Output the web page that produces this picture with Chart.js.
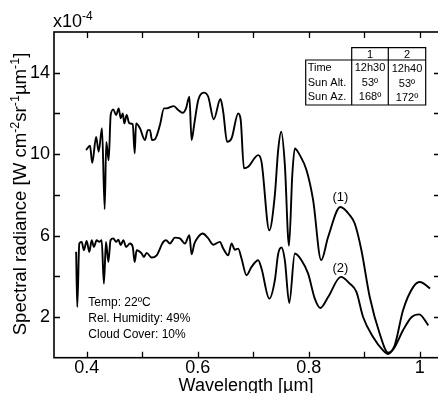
<!DOCTYPE html>
<html><head><meta charset="utf-8">
<script src="https://cdn.jsdelivr.net/npm/chart.js@4/dist/chart.umd.min.js"></script>
<style>html,body{margin:0;padding:0;overflow:hidden;background:#fff}#wrap{width:442px;height:393px;position:relative}</style>
</head><body><div id="wrap"><canvas id="c"></canvas></div>
<script>
// ---- data (x10^-4 W cm^-2 sr^-1 um^-1) ----
const wavelength1 = [0.399,0.406,0.410,0.417,0.4216,0.4276,0.4324,0.4353,0.4396,0.4432,0.448,0.453,0.4577,0.4613,0.465,0.4678,0.472,0.4768,0.483,0.4865,0.489,0.496,0.505,0.510,0.514,0.5177,0.523,0.532,0.5393,0.544,0.557,0.565,0.573,0.579,0.585,0.589,0.594,0.601,0.611,0.619,0.629,0.641,0.646,0.653,0.661,0.673,0.6775,0.6834,0.691,0.709,0.715,0.729,0.739,0.745,0.7505,0.757,0.7645,0.7705,0.775,0.784,0.796,0.808,0.8225,0.835,0.857,0.874,0.883,0.895,0.910,0.928,0.943,0.955,0.970,0.9885,1.0005,1.0186];
const radiance1  = [10.20,10.41,9.57,10.85,10.12,11.27,7.3,10.6,9.7,11.92,12.2,11.92,12.25,11.76,12.0,11.51,11.92,11.51,11.48,10.04,11.51,11.27,10.69,11.18,11.18,10.69,10.73,11.43,12.25,12.25,12.36,12.17,12.03,12.25,12.82,10.69,11.51,12.66,13.02,12.82,11.71,12.71,12.08,10.6,10.77,12.0,11.68,9.3,9.38,9.95,9.62,6.26,7.99,10.2,11.1,9.5,5.5,9.0,10.28,9.95,9.22,7.74,4.79,5.93,7.4,7.0,6.59,5.28,2.98,1.18,0.25,0.61,2.33,3.48,3.72,3.4];
const wavelength2 = [0.381,0.383,0.3867,0.391,0.395,0.400,0.4047,0.409,0.413,0.418,0.4227,0.427,0.431,0.4348,0.439,0.443,0.448,0.453,0.457,0.4613,0.466,0.471,0.478,0.483,0.4865,0.490,0.499,0.503,0.508,0.517,0.526,0.538,0.543,0.550,0.559,0.568,0.577,0.585,0.589,0.594,0.601,0.609,0.618,0.628,0.640,0.646,0.655,0.661,0.667,0.673,0.679,0.688,0.697,0.709,0.715,0.729,0.739,0.745,0.751,0.757,0.765,0.775,0.787,0.799,0.811,0.821,0.835,0.858,0.874,0.886,0.898,0.916,0.934,0.943,0.955,0.970,0.9856,0.9993,1.0155];
const radiance2  = [5.2,2.49,5.61,5.69,5.28,5.74,5.2,5.77,5.44,5.77,5.69,5.77,3.64,5.69,4.7,5.77,5.86,5.69,5.8,5.53,5.77,5.44,5.61,5.44,4.7,5.28,5.12,4.95,5.15,4.92,5.03,5.69,5.77,5.61,5.9,5.86,5.61,6.02,5.08,5.6,5.94,6.1,5.9,5.55,5.69,5.36,5.03,5.61,5.3,5.36,4.87,4.05,4.46,4.79,4.38,2.9,3.8,5.1,5.41,4.79,2.69,5.12,4.79,4.13,2.9,2.44,2.98,3.97,3.64,3.23,2.0,1.02,0.36,0.18,0.52,1.35,2.0,2.13,1.59];
const xTickValues = [0.4,0.5,0.6,0.7,0.8,0.9,1.0];
const xTickLabels = [0.4,0.6,0.8,1];
const yTickValues = [2,4,6,8,10,12,14];
const yTickLabels = [2,6,10,14];
const seriesNames = ['(1)','(2)'];
const seriesLabelPos = [[0.857,7.87],[0.857,4.41]];
const tableHead = ['1','2'];
const tableRows = [['Time','12h30','12h40'],['Sun Alt.','53º','53º'],['Sun Az.','168º','172º']];
const notes = ['Temp: 22ºC','Rel. Humidity: 49%','Cloud Cover: 10%'];

const FONT = '"Liberation Sans", Arial, Helvetica, sans-serif';
const toPts = (xs, ys) => xs.map((x,i)=>({x:x,y:ys[i]}));

const decor = {
  id:'decor',
  afterDraw(chart){
    const ctx = chart.ctx, a = chart.chartArea, xs = chart.scales.x, ys = chart.scales.y;
    ctx.save();
    ctx.strokeStyle = '#000'; ctx.lineWidth = 1.6;
    ctx.strokeRect(a.left, a.top, a.right - a.left, a.bottom - a.top);
    ctx.lineWidth = 1.3;
    const TL = 6;
    ctx.beginPath();
    xTickValues.forEach(v=>{
      const px = Math.round(xs.getPixelForValue(v))+0.5;
      ctx.moveTo(px, a.bottom); ctx.lineTo(px, a.bottom - TL);
      ctx.moveTo(px, a.top); ctx.lineTo(px, a.top + TL);
    });
    yTickValues.forEach(v=>{
      const py = Math.round(ys.getPixelForValue(v))+0.5;
      ctx.moveTo(a.left, py); ctx.lineTo(a.left + TL, py);
      ctx.moveTo(a.right, py); ctx.lineTo(a.right - TL, py);
    });
    ctx.stroke();
    ctx.fillStyle = '#000';
    // exponent
    ctx.textBaseline = 'alphabetic'; ctx.textAlign = 'left';
    ctx.font = '18px ' + FONT;
    ctx.fillText('x10', 53, 27);
    const w10 = ctx.measureText('x10').width;
    ctx.font = '12px ' + FONT;
    ctx.fillText('-4', 53 + w10, 20);
    // y title with superscripts
    const segs = [['Spectral radiance [W cm',0],['-2',1],['sr',0],['-1',1],['µm',0],['-1',1],[']',0]];
    const big = '18.6px ', small = '12.5px ';
    let total = 0;
    segs.forEach(s=>{ ctx.font = (s[1]?small:big) + FONT; total += ctx.measureText(s[0]).width; });
    ctx.save();
    ctx.translate(25.5, 194); ctx.rotate(-Math.PI/2);
    let cx = -total/2;
    segs.forEach(s=>{
      ctx.font = (s[1]?small:big) + FONT;
      ctx.fillText(s[0], cx, s[1] ? -7 : 0);
      cx += ctx.measureText(s[0]).width;
    });
    ctx.restore();
    // x title
    ctx.font = '18px ' + FONT; ctx.textAlign = 'center';
    ctx.fillText('Wavelength [µm]', (a.left + 438)/2, 391);
    // series labels
    ctx.font = '13px ' + FONT; ctx.textBaseline = 'middle';
    seriesNames.forEach((n,i)=>{
      ctx.fillText(n, xs.getPixelForValue(seriesLabelPos[i][0]), ys.getPixelForValue(seriesLabelPos[i][1]));
    });
    // notes
    ctx.font = '12px ' + FONT; ctx.textAlign = 'left';
    notes.forEach((t,i)=>{ ctx.fillText(t, 88.3, 302.7 + i*16.2); });
    // table
    const c0 = 305.7, c1 = 351.7, c2 = 388.3, c3 = 425.7, t0 = 47.7, t1 = 60, t2 = 105;
    ctx.lineWidth = 1.2;
    ctx.beginPath();
    ctx.rect(c1, t0, c3 - c1, t1 - t0);
    ctx.rect(c0, t1, c3 - c0, t2 - t1);
    ctx.moveTo(c2, t0); ctx.lineTo(c2, t2);
    ctx.moveTo(c1, t1); ctx.lineTo(c1, t2);
    ctx.stroke();
    ctx.font = '11px ' + FONT; ctx.textAlign = 'center';
    ctx.fillText(tableHead[0], (c1+c2)/2, 54.5);
    ctx.fillText(tableHead[1], (c2+c3)/2, 54.5);
    tableRows.forEach((r,i)=>{
      const y = 68.3 + i*14.2;
      ctx.textAlign = 'left'; ctx.fillText(r[0], c0 + 2, y);
      ctx.textAlign = 'center';
      ctx.fillText(r[1], (c1+c2)/2, y);
      ctx.fillText(r[2], (c2+c3)/2, y + 1);
    });
    ctx.restore();
  }
};

new Chart(document.getElementById('c'), {
  type:'line',
  data:{ datasets:[
    {data: toPts(wavelength1, radiance1), borderColor:'#000', borderWidth:1.9, pointRadius:0, cubicInterpolationMode:'monotone', fill:false},
    {data: toPts(wavelength2, radiance2), borderColor:'#000', borderWidth:1.9, pointRadius:0, cubicInterpolationMode:'monotone', fill:false}
  ]},
  options:{
    responsive:true, maintainAspectRatio:false, animation:false,
    layout:{padding:{top:32, right:2, left:0, bottom:0}},
    plugins:{legend:{display:false}, tooltip:{enabled:false}},
    scales:{
      x:{ type:'linear', min:0.3411, max:1.0366,
        afterBuildTicks: s => { s.ticks = xTickValues.map(v=>({value:v})); },
        afterFit: s => { s.height = 35.3; },
        grid:{display:false, drawTicks:false}, border:{display:false},
        ticks:{ autoSkip:false, maxRotation:0, padding:0, color:'#000', font:{size:18, family:FONT},
          callback: v => { const m = xTickLabels.find(t=>Math.abs(t-v)<1e-6); return m===undefined ? '' : String(m); } }
      },
      y:{ type:'linear', min:0, max:16,
        afterBuildTicks: s => { s.ticks = yTickValues.map(v=>({value:v})); },
        afterFit: s => { s.width = 54; },
        grid:{display:false, drawTicks:false}, border:{display:false},
        ticks:{ autoSkip:false, padding:4, color:'#000', font:{size:18, family:FONT},
          callback: v => yTickLabels.includes(v) ? String(v) : '' }
      }
    }
  },
  plugins:[decor]
});
</script></body></html>
